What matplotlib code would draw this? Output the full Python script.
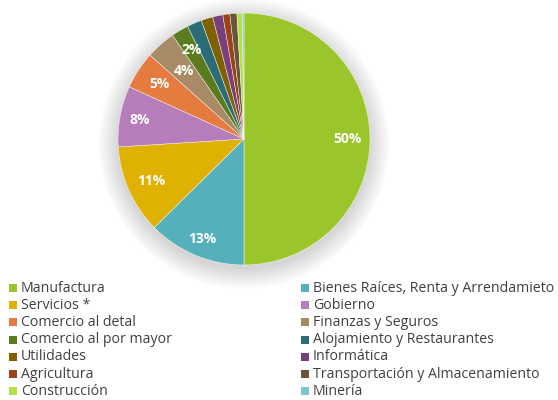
import numpy as np
import matplotlib
matplotlib.use("Agg")
import matplotlib.pyplot as plt
from matplotlib.patches import Rectangle

categories = ["Manufactura", "Bienes Raíces, Renta y Arrendamieto", "Servicios *", "Gobierno",
              "Comercio al detal", "Finanzas y Seguros", "Comercio al por mayor",
              "Alojamiento y Restaurantes", "Utilidades", "Informática", "Agricultura",
              "Transportación y Almacenamiento", "Construcción", "Minería"]
values = [50.0, 12.6, 11.4, 7.8, 4.8, 3.8, 2.2, 1.9, 1.5, 1.3, 0.9, 0.9, 0.7, 0.2]
labels_shown = ["50%", "13%", "11%", "8%", "5%", "4%", "2%"]
colors = ["#9BC62B", "#55B0BC", "#DFB100", "#B77DBB", "#E57B3F", "#A88B66", "#5B7B1F",
          "#2B6C77", "#7F6100", "#7A3F7B", "#9A4319", "#6A5539", "#B6E04B", "#7CC6CD"]

W, H = 558, 400
fig = plt.figure(figsize=(W/100, H/100), dpi=100)
cx, cy, r = 244, 139, 126
ax = fig.add_axes([(cx - r)/W, (H - cy - r)/H, 2*r/W, 2*r/H])

# soft shadow
n = 14
for i in range(n):
    ax.add_patch(plt.Circle((0.0, -0.035), 1.0 + 0.012*i, color="#000000",
                            alpha=0.012, lw=0, zorder=0, clip_on=False))

wedges, _ = ax.pie(values, colors=colors, startangle=90, counterclock=False,
                   wedgeprops=dict(linewidth=0.3, edgecolor="white"), radius=1.0)
for w in wedges:
    w.set_zorder(2)
    w.set_clip_on(False)

dists = [0.82, 0.86, 0.81, 0.84, 0.80, 0.72, 0.82]
for w, lab, d in zip(wedges, labels_shown, dists):
    ang = np.deg2rad((w.theta1 + w.theta2) / 2)
    ax.text(d*np.cos(ang), d*np.sin(ang), lab, ha="center", va="center",
            color="white", fontsize=10, fontweight="bold", zorder=3, family="Open Sans")

ax.set_xlim(-1, 1)
ax.set_ylim(-1, 1)
ax.set_aspect("auto")
ax.axis("off")

# legend
col_x = [9, 301]
row_y0, dy = 288, 17.2
for i, (cat, col) in enumerate(zip(categories, colors)):
    c = i % 2
    rr = i // 2
    x = col_x[c]
    y = row_y0 + rr*dy
    fig.patches.append(Rectangle((x/W, (H - y - 4)/H), 8/W, 8/H, transform=fig.transFigure,
                                 facecolor=col, edgecolor="none"))
    fig.text((x + 12)/W, (H - y)/H, cat, ha="left", va="center", fontsize=10.2,
             color="#404040", family="Open Sans")

fig.savefig("out.png", dpi=100)
